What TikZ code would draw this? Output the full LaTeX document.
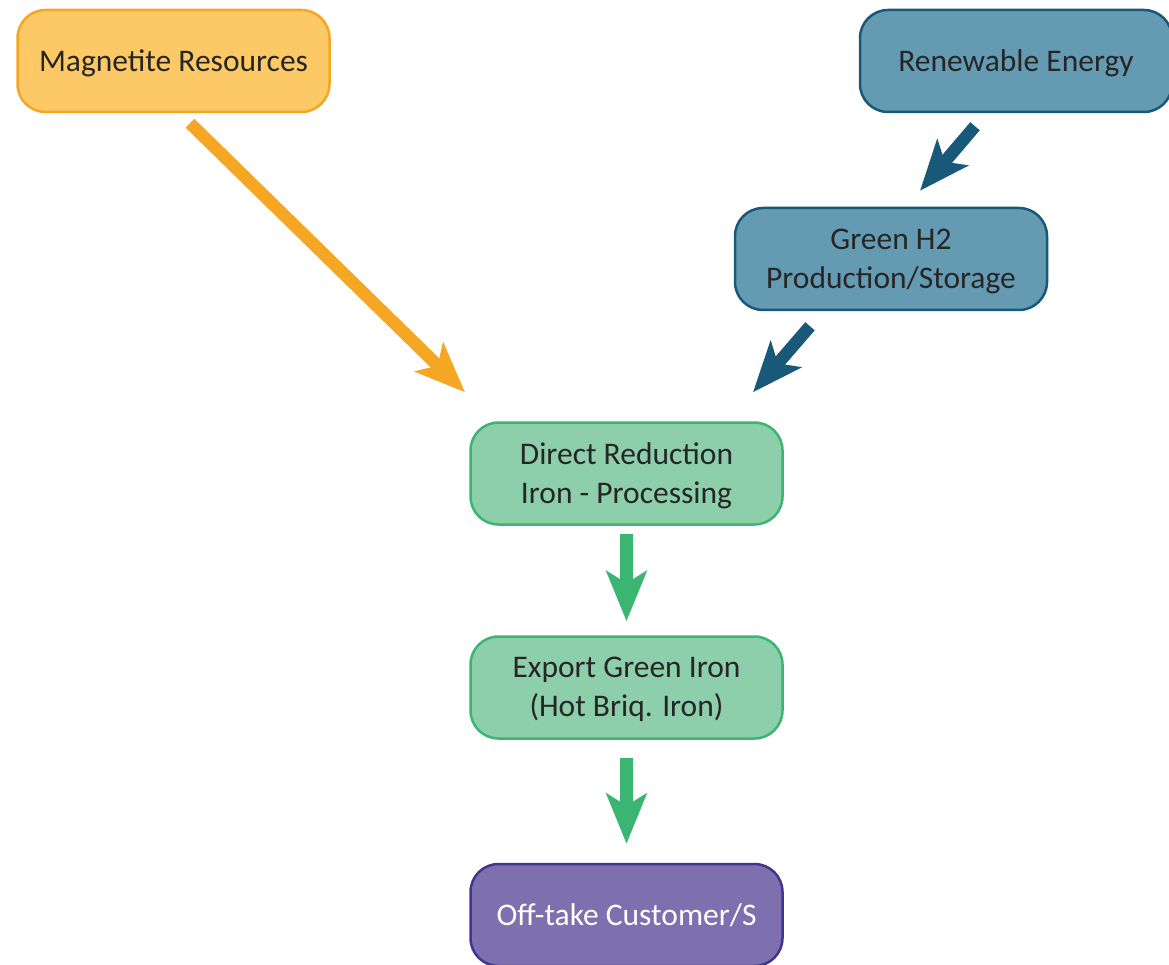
\documentclass[tikz,border=0pt]{standalone}
\usepackage{fontspec}
\setmainfont{Carlito}
\usetikzlibrary{arrows.meta, positioning}
\definecolor{magfill}{RGB}{253,200,102}
\definecolor{magline}{RGB}{245,166,35}
\definecolor{renfill}{RGB}{100,155,178}
\definecolor{renline}{RGB}{24,88,120}
\definecolor{grnfill}{RGB}{140,207,170}
\definecolor{grnline}{RGB}{58,182,114}
\definecolor{purfill}{RGB}{126,112,175}
\definecolor{purline}{RGB}{63,54,144}
\definecolor{txt}{RGB}{38,38,38}

\begin{document}
\begin{tikzpicture}[x=1pt, y=-1pt,
    box/.style={rounded corners=28pt, line width=2.5pt, minimum width=312pt,
        minimum height=102pt, align=center, text=txt, text depth=1pt,
        font=\fontsize{31.5}{39}\selectfont},
    flow/.style={line width=12.5pt,
        -{Stealth[length=50pt, width=40pt, inset=12pt]}}]
        %\draw [step=50, very thin, lightgray] (0, 0) grid (1169, 965);
        \useasboundingbox (0, 0) rectangle (1169, 965);
        \node [box, fill=magfill, draw=magline] (mag) at (173.5, 61) {Magnetite Resources};
        \node [box, fill=renfill, draw=renline] (ren) at (1016, 61) {Renewable Energy};
        \node [box, fill=renfill, draw=renline] (htwo) at (891, 259) {Green H2\\Production/Storage};
        \node [box, fill=grnfill, draw=grnline] (dri) at (626.5, 473.5) {Direct Reduction\\Iron - Processing};
        \node [box, fill=grnfill, draw=grnline] (export) at (626.5, 687.5) {Export Green Iron\\(Hot Briq. Iron)};
        \node [box, fill=purfill, draw=purline, text=white] (offtake) at (626.5, 915) {Off-take Customer/S};
        \draw [flow, magline] ([xshift=16.5pt, yshift=-10pt]mag.south) -- ([xshift=-161.5pt, yshift=29pt]dri.north);
        \draw [flow, renline] ([xshift=-41pt, yshift=-13pt]ren.south) -- ([xshift=29pt, yshift=16pt]htwo.north);
        \draw [flow, renline] ([xshift=-81pt, yshift=-15pt]htwo.south) -- ([xshift=126.5pt, yshift=29pt]dri.north);
        \draw [flow, grnline] ([yshift=-8pt]dri.south) -- ([yshift=14pt]export.north);
        \draw [flow, grnline] ([yshift=-18pt]export.south) -- ([yshift=19pt]offtake.north);
    \end{tikzpicture}
\end{document}
